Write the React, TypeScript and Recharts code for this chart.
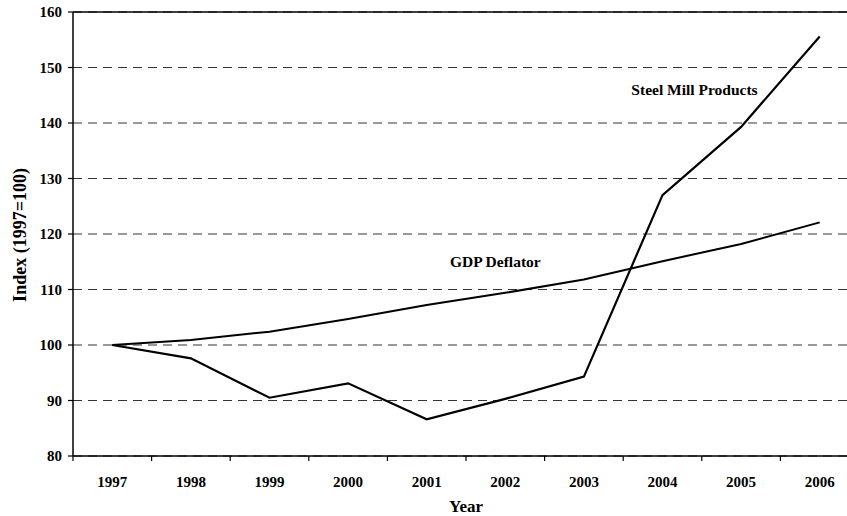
import React from 'react';
import {
  LineChart,
  Line,
  XAxis,
  YAxis,
  CartesianGrid,
  ReferenceLine,
  ReferenceDot,
} from 'recharts';

const years = ['1997', '1998', '1999', '2000', '2001', '2002', '2003', '2004', '2005', '2006'];
const steelMill = [100, 97.6, 90.5, 93.1, 86.6, 90.3, 94.3, 127.0, 139.3, 155.6];
const gdpDeflator = [100, 100.9, 102.4, 104.7, 107.2, 109.4, 111.8, 115.1, 118.2, 122.1];
const yTicks = [80, 90, 100, 110, 120, 130, 140, 150, 160];

const data = years.map((y, i) => ({ year: y, steel: steelMill[i], gdp: gdpDeflator[i] }));

const FONT = '"Liberation Serif", "Times New Roman", serif';
const CHART_W = 870;
const CHART_H = 516;
const MARGIN = { top: 12, right: 11, bottom: 0, left: 0 };
const YAXIS_W = 73;
const PLOT_W = CHART_W - MARGIN.right - MARGIN.left - YAXIS_W;
const HALF_STEP = PLOT_W / years.length / 2;

const XTick = (props: any) => {
  const { x, y, payload } = props;
  const axisY = y - 20;
  return (
    <g>
      <line
        x1={x - HALF_STEP}
        y1={axisY}
        x2={x - HALF_STEP}
        y2={axisY + 5}
        stroke="#000"
        strokeWidth={1.2}
      />
      <text
        x={x}
        y={y}
        dy="0.71em"
        textAnchor="middle"
        fill="#000"
        fontFamily={FONT}
        fontWeight="bold"
        fontSize={15}
      >
        {payload.value}
      </text>
    </g>
  );
};

const makeAnno = (text: string, dx: number) => (props: any) => {
  const vb = props.viewBox || { x: 0, y: 0, width: 0, height: 0 };
  const cx = vb.x + (vb.width || 0) / 2 + dx;
  const cy = vb.y + (vb.height || 0) / 2;
  return (
    <text
      x={cx}
      y={cy}
      dy="0.35em"
      textAnchor="middle"
      fill="#000"
      fontFamily={FONT}
      fontWeight="bold"
      fontSize={15.5}
    >
      {text}
    </text>
  );
};

const YLabel = () => {
  const cx = 20;
  const cy = 235;
  return (
    <text
      x={cx}
      y={cy}
      transform={`rotate(-90, ${cx}, ${cy})`}
      dy="0.35em"
      textAnchor="middle"
      fill="#000"
      fontFamily={FONT}
      fontWeight="bold"
      fontSize={18}
    >
      Index (1997=100)
    </text>
  );
};

export default function App() {
  return (
    <div
      style={{
        position: 'fixed',
        left: 0,
        top: 0,
        width: 847,
        height: 516,
        overflow: 'hidden',
        background: '#fff',
      }}
    >
      <LineChart width={CHART_W} height={CHART_H} data={data} margin={MARGIN}>
        <CartesianGrid vertical={false} stroke="#333" strokeDasharray="9 6" strokeWidth={1} />
        <XAxis
          dataKey="year"
          height={60}
          padding={{ left: HALF_STEP, right: HALF_STEP }}
          axisLine={{ stroke: '#000', strokeWidth: 1.5 }}
          tickLine={false}
          tickSize={5}
          tickMargin={15}
          interval={0}
          tick={<XTick />}
          label={{
            value: 'Year',
            position: 'insideBottom',
            offset: 4,
            fill: '#000',
            fontFamily: FONT,
            fontWeight: 'bold',
            fontSize: 17,
          }}
        />
        <YAxis
          width={YAXIS_W}
          domain={[80, 160]}
          ticks={yTicks}
          interval={0}
          axisLine={{ stroke: '#000', strokeWidth: 1.5 }}
          tickLine={{ stroke: '#000', strokeWidth: 1.2 }}
          tickSize={5}
          tickMargin={6}
          tick={{ fill: '#000', fontFamily: FONT, fontWeight: 'bold', fontSize: 15 }}
          label={<YLabel />}
        />
        <ReferenceLine y={160} stroke="#000" strokeWidth={1.5} />
        <Line
          type="linear"
          dataKey="gdp"
          stroke="#000"
          strokeWidth={2}
          dot={false}
          isAnimationActive={false}
        />
        <Line
          type="linear"
          dataKey="steel"
          stroke="#000"
          strokeWidth={2.2}
          dot={false}
          isAnimationActive={false}
        />
        <ReferenceDot
          x="2004"
          y={146.1}
          r={0}
          fill="none"
          stroke="none"
          label={makeAnno('Steel Mill Products', 32)}
        />
        <ReferenceDot
          x="2002"
          y={115}
          r={0}
          fill="none"
          stroke="none"
          label={makeAnno('GDP Deflator', -10)}
        />
      </LineChart>
    </div>
  );
}
